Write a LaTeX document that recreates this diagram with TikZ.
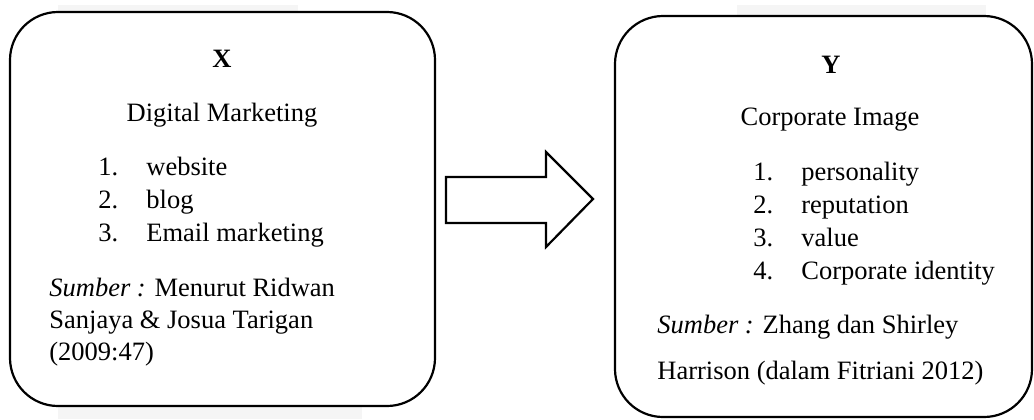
\documentclass[tikz,border=0pt]{standalone}
\usepackage{fontspec}
\setmainfont{Liberation Serif}
\begin{document}
\begin{tikzpicture}[x=0.5pt,y=-0.5pt,
  every node/.style={inner sep=0pt,font=\fontsize{13.25}{16}\selectfont},
  box/.style={draw=black,line width=1.1pt,rounded corners=24pt},
  shade/.style={fill=black!4,draw=none},
  txt/.style={anchor=base west},
  ctr/.style={anchor=base}]
\useasboundingbox (0,0) rectangle (1034,419);
% faint frames behind the boxes
\fill[shade] (58,5) rectangle (298,12);
\fill[shade] (58,406) rectangle (362,419);
\fill[shade] (737,5) rectangle (986,16);
% the two boxes
\draw[box] (10,12) rectangle (435,406);
\draw[box] (615,16) rectangle (1032,417);
% block arrow between them
\draw[line width=1.1pt,line join=miter] (446,177) -- (546,177) -- (546,152) -- (593,199)
  -- (546,247) -- (546,223) -- (446,223) -- cycle;
% left box content
\node[ctr] (x) at (222,67) {\textbf{X}};
\node[ctr] (xt) at (222,121) {Digital Marketing};
\node[txt] (xn1) at (98,175) {1.};
\node[txt] (xi1) at (146,175) {website};
\node[txt] (xn2) at (98,208) {2.};
\node[txt] (xi2) at (146,208) {blog};
\node[txt] (xn3) at (98,241) {3.};
\node[txt] (xi3) at (146,241) {Email marketing};
\node[txt] (xs1) at (49,296) {\textit{Sumber :} Menurut Ridwan};
\node[txt] (xs2) at (49,328) {Sanjaya \& Josua Tarigan};
\node[txt] (xs3) at (49,360) {(2009:47)};
% right box content
\node[ctr] (y) at (831,73) {\textbf{Y}};
\node[ctr] (yt) at (830,125) {Corporate Image};
\node[txt] (yn1) at (753,180) {1.};
\node[txt] (yi1) at (801,180) {personality};
\node[txt] (yn2) at (753,213) {2.};
\node[txt] (yi2) at (801,213) {reputation};
\node[txt] (yn3) at (753,246) {3.};
\node[txt] (yi3) at (801,246) {value};
\node[txt] (yn4) at (753,279) {4.};
\node[txt] (yi4) at (801,279) {Corporate identity};
\node[txt] (ys1) at (657,333) {\textit{Sumber :} Zhang dan Shirley};
\node[txt] (ys2) at (657,379) {Harrison (dalam Fitriani 2012)};
\end{tikzpicture}
\end{document}
